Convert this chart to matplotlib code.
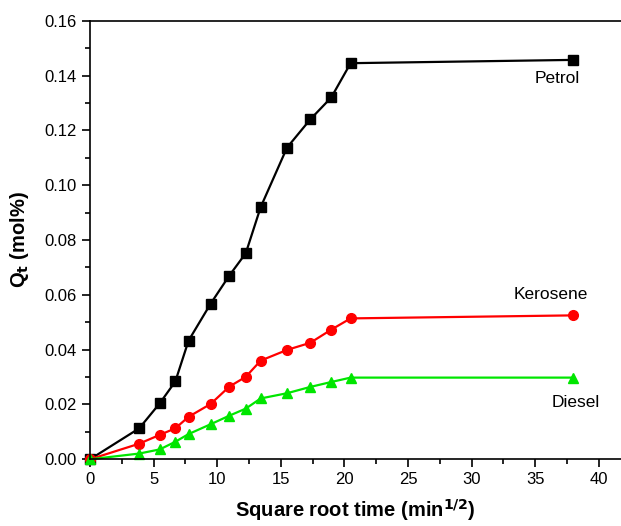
import matplotlib
matplotlib.use("Agg")
import matplotlib.pyplot as plt
from matplotlib.ticker import MultipleLocator

plt.rcParams["font.family"] = ["Liberation Sans", "DejaVu Sans"]

# square root of time (min^1/2)
sqrt_t = [0, 3.87, 5.48, 6.71, 7.75, 9.49, 10.95, 12.25, 13.42, 15.49, 17.32, 18.97, 20.49, 37.95]
petrol = [0, 0.0113, 0.0204, 0.0284, 0.0433, 0.0568, 0.0670, 0.0752, 0.0920, 0.1137, 0.1240, 0.1320, 0.1445, 0.1457]
kerosene = [0, 0.0057, 0.0089, 0.0113, 0.0155, 0.0202, 0.0265, 0.0301, 0.0360, 0.0399, 0.0425, 0.0473, 0.0514, 0.0525]
diesel = [0, 0.0021, 0.0036, 0.0064, 0.0092, 0.0128, 0.0159, 0.0185, 0.0222, 0.0241, 0.0264, 0.0282, 0.0298, 0.0298]

fig = plt.figure(figsize=(6.21, 5.26), dpi=100)
ax = fig.add_axes([90 / 621, 1 - 459.3 / 526, 1 - 90 / 621, (459.3 - 20.7) / 526])

ax.plot(sqrt_t, petrol, "-s", color="black", lw=1.6, ms=6.5, clip_on=False)
ax.plot(sqrt_t, kerosene, "-o", color="#ff0000", lw=1.6, ms=7, clip_on=False)
ax.plot(sqrt_t, diesel, "-^", color="#00e600", lw=1.6, ms=7.5, clip_on=False)

ax.text(36.7, 0.139, "Petrol", ha="center", va="center", fontsize=12.5)
ax.text(36.2, 0.0602, "Kerosene", ha="center", va="center", fontsize=12.5)
ax.text(38.2, 0.0206, "Diesel", ha="center", va="center", fontsize=12.5)

ax.set_xlim(0, 41.75)
ax.set_ylim(0, 0.16)
ax.xaxis.set_major_locator(MultipleLocator(5))
ax.xaxis.set_minor_locator(MultipleLocator(2.5))
ax.yaxis.set_major_locator(MultipleLocator(0.02))
ax.yaxis.set_minor_locator(MultipleLocator(0.01))
ax.yaxis.set_major_formatter(plt.FormatStrFormatter("%.2f"))
ax.tick_params(which="both", direction="out", top=False, right=False, labelsize=12)
ax.tick_params(which="major", length=6, width=1.2)
ax.tick_params(which="minor", length=3.5, width=1.2)
ax.spines["right"].set_visible(False)
for s in ["left", "bottom", "top"]:
    ax.spines[s].set_linewidth(1.2)

ax.set_xlabel("Square root time (min$^{\\mathbf{1/2}}$)", fontsize=14.5, fontweight="bold", labelpad=7)
ax.set_ylabel("Q$_\\mathbf{t}$ (mol%)", fontsize=14.5, fontweight="bold", labelpad=10)

fig.savefig("out.png", dpi=100)
